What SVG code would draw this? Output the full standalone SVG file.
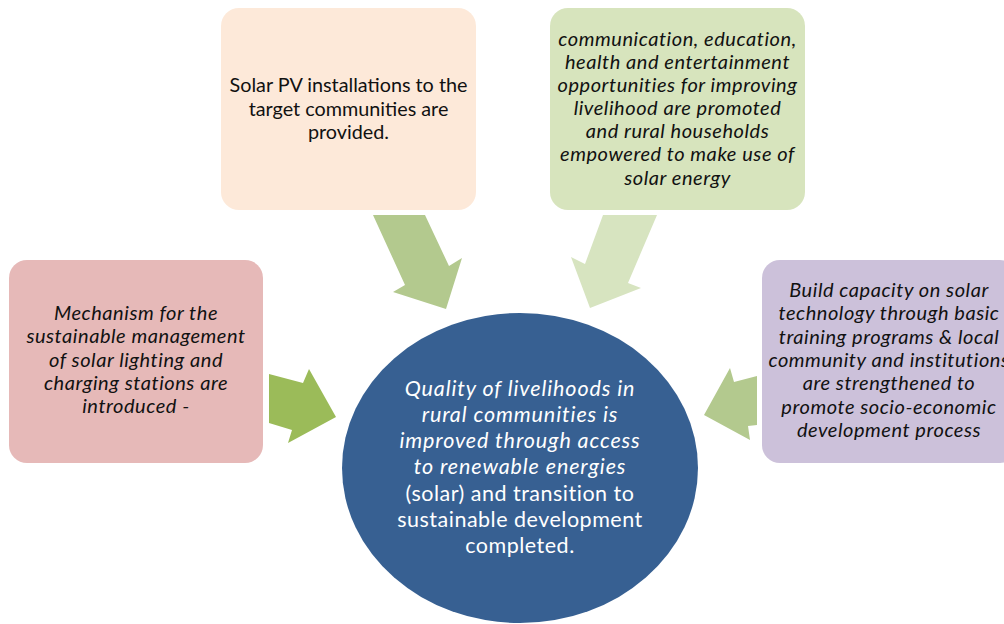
<svg xmlns="http://www.w3.org/2000/svg" width="1004" height="624" viewBox="0 0 1004 624">
  <style>
    .box { stroke: none; }
    .t { font-family: Lato, "Liberation Sans", sans-serif; font-size: 19.8px; fill: #111; text-anchor: middle; }
    .t.it { font-style: italic; font-size: 20px; letter-spacing: 0.55px; }
    .ct { font-family: Lato, "Liberation Sans", sans-serif; font-size: 21.5px; fill: #fff; text-anchor: middle; letter-spacing: 0.5px; }
    .ct.it { font-style: italic; letter-spacing: 0.9px; }
  </style>
  <rect width="1004" height="624" fill="#fff"/>

  <!-- block arrows pointing at the central goal -->
  <g id="connectors">
    <polygon fill="#9BBB59" points="269,374 303,383 309,369 336,417 288,443 292,430 269,423"/>
    <polygon fill="#B3C98E" points="373,215 425,215 449,266 462,258 446,309 393,292 405,285"/>
    <polygon fill="#D7E4C0" points="603,215 657,215 628,283 641,288 590,308 571,257 585,264"/>
    <polygon fill="#B3C98E" points="757,376 734,382 730,368 704,415 750,440 748,426 757,425"/>
  </g>

  <g id="outcome-installations">
    <rect class="box" x="221" y="8" width="255" height="202" rx="18" fill="#FDE9D9"/>
    <text class="t" x="348.5" y="92">Solar PV installations to the</text>
    <text class="t" x="348.5" y="116">target communities are</text>
    <text class="t" x="348.5" y="139">provided.</text>
  </g>

  <g id="outcome-opportunities">
    <rect class="box" x="550" y="8" width="255" height="202" rx="18" fill="#D7E4BD"/>
    <text class="t it" x="677.5" y="46">communication, education,</text>
    <text class="t it" x="677.5" y="69">health and entertainment</text>
    <text class="t it" x="677.5" y="92">opportunities for improving</text>
    <text class="t it" x="677.5" y="115">livelihood are promoted</text>
    <text class="t it" x="677.5" y="138">and rural households</text>
    <text class="t it" x="677.5" y="161">empowered to make use of</text>
    <text class="t it" x="677.5" y="185">solar energy</text>
  </g>

  <g id="outcome-management">
    <rect class="box" x="9" y="260" width="254" height="203" rx="18" fill="#E6B9B8"/>
    <text class="t it" x="136" y="320">Mechanism for the</text>
    <text class="t it" x="136" y="343">sustainable management</text>
    <text class="t it" x="136" y="367">of solar lighting and</text>
    <text class="t it" x="136" y="390">charging stations are</text>
    <text class="t it" x="136" y="413">introduced -</text>
  </g>

  <g id="outcome-capacity">
    <rect class="box" x="762" y="260" width="256" height="203" rx="18" fill="#CCC1DA"/>
    <text class="t it" x="889" y="297">Build capacity on solar</text>
    <text class="t it" x="889" y="320">technology through basic</text>
    <text class="t it" x="889" y="344">training programs &amp; local</text>
    <text class="t it" x="889" y="367">community and institutions</text>
    <text class="t it" x="889" y="390">are strengthened to</text>
    <text class="t it" x="889" y="414">promote socio-economic</text>
    <text class="t it" x="889" y="437">development process</text>
  </g>

  <g id="goal">
    <ellipse cx="520" cy="468" rx="178" ry="155" fill="#376092"/>
    <text class="ct it" x="520" y="396">Quality of livelihoods in</text>
    <text class="ct it" x="520" y="422">rural communities is</text>
    <text class="ct it" x="520" y="448">improved through access</text>
    <text class="ct it" x="520" y="474">to renewable energies</text>
    <text class="ct" x="520" y="501">(solar) and transition to</text>
    <text class="ct" x="520" y="527">sustainable development</text>
    <text class="ct" x="520" y="553">completed.</text>
  </g>
</svg>
